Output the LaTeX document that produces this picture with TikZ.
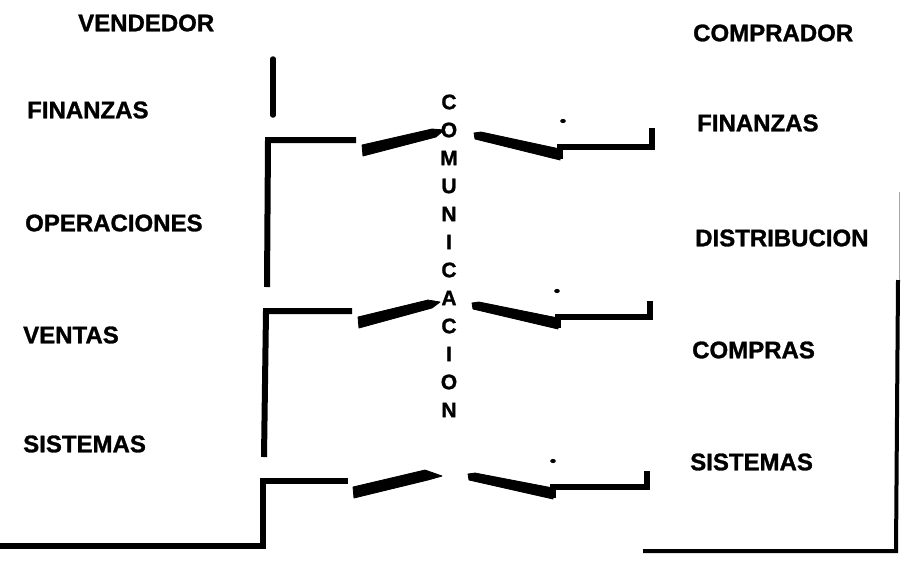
\documentclass[tikz,border=0pt]{standalone}
\usepackage{fontspec}
\setmainfont{Liberation Sans}
\newfontfamily\heavy{Liberation Sans Bold}[FakeBold=1.2]
\begin{document}
\begin{tikzpicture}[x=1pt,y=-1pt,
  lbl/.style={inner sep=0pt,anchor=west,font=\fontsize{24}{24}\heavy},
  vlet/.style={inner sep=0pt,font=\fontsize{21}{21}\heavy},
  bar/.style={line width=6pt,line cap=butt,line join=miter},
  wedge/.style={fill=black,draw=black,line width=0.8pt,line join=round},
  blip/.style={fill=black}]
\useasboundingbox (0,0) rectangle (901,563);
% labels
\node[lbl] (vend) at (78,23) {VENDEDOR};
\node[lbl] (finL) at (27,110) {FINANZAS};
\node[lbl] (opeL) at (25,223) {OPERACIONES};
\node[lbl] (venL) at (23,335) {VENTAS};
\node[lbl] (sisL) at (23,444) {SISTEMAS};
\node[lbl] (comp) at (693,33) {COMPRADOR};
\node[lbl] (finR) at (697,123) {FINANZAS};
\node[lbl] (disR) at (695,238) {DISTRIBUCION};
\node[lbl] (cprR) at (692,350) {COMPRAS};
\node[lbl] (sisR) at (690,462) {SISTEMAS};
% vertical word
\foreach \ch [count=\i from 0] in {C,O,M,U,N,I,C,A,C,I,O,N}
  \node[vlet] (w\i) at (449,{102+28*\i}) {\ch};
% left side lines
\draw[line width=5.5pt,line cap=round] (273,59) -- (273,115);
\draw[bar] (267,287) -- (268,140) -- (356,140);
\draw[bar] (264,457) -- (266,311) -- (352,311);
\draw[bar] (0,546) -- (263,546) -- (263,481) -- (348,481);
% left wedges
\draw[wedge] (362,145) -- (432,129) -- (444,130) -- (436,137) -- (363,156) -- cycle;
\draw[wedge] (358,317) -- (428,300) -- (440,302) -- (432,308) -- (359,328) -- cycle;
\draw[wedge] (353,487) -- (425,470) -- (442,476) -- (428,480) -- (354,498) -- cycle;
% right wedges and steps
\draw[wedge] (474,133) -- (481,132) -- (560,149) -- (560,160) -- (475,139) -- cycle;
\draw[bar] (560,159) -- (560,147) -- (652,147) -- (652,128);
\draw[wedge] (472,303) -- (479,302) -- (558,318) -- (558,329) -- (473,309) -- cycle;
\draw[bar] (558,328) -- (558,317) -- (650,317) -- (650,301);
\draw[wedge] (468,474) -- (475,473) -- (553,488) -- (553,499) -- (469,480) -- cycle;
\draw[bar] (553,498) -- (553,487) -- (647,487) -- (647,471);
% small marks
\fill[blip] (563,121) ellipse (2.8pt and 2.1pt);
\fill[blip] (557,291) ellipse (2.8pt and 2.1pt);
\fill[blip] (553,461) ellipse (2.8pt and 2.1pt);
% right frame
\draw[line width=1pt,black!35] (899,192) -- (899,282);
\draw[line width=4pt] (643,551) -- (896,551) -- (898,280);
\end{tikzpicture}
\end{document}
